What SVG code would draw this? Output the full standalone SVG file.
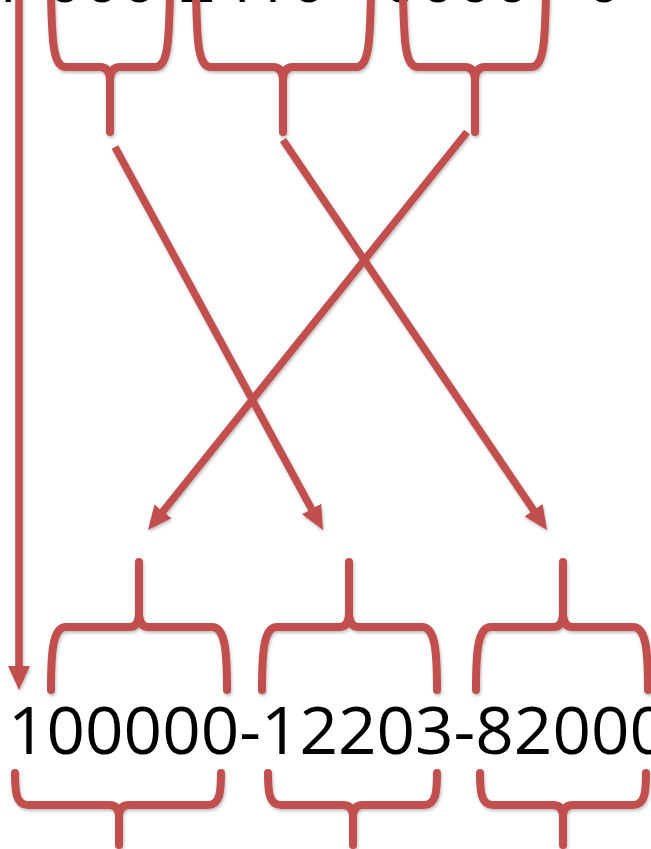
<svg xmlns="http://www.w3.org/2000/svg" width="651" height="849" viewBox="0 0 651 849">
  <defs>
    <style>
      .br { fill: none; stroke: #c0504d; stroke-width: 8; stroke-linecap: round; stroke-linejoin: round; }
      .cn { fill: none; stroke: #c0504d; stroke-width: 7.5; stroke-linecap: butt; }
      .num { font-family: "Open Sans", "Liberation Sans", sans-serif; font-size: 65px; fill: #000000; }
    </style>
    <filter id="sh" x="-10%" y="-10%" width="120%" height="120%">
      <feDropShadow dx="1" dy="2" stdDeviation="1.5" flood-color="#000000" flood-opacity="0.25"/>
    </filter>
    <marker id="ah" markerUnits="userSpaceOnUse" markerWidth="24" markerHeight="22" refX="16" refY="11" orient="auto">
      <path d="M0,0 L24,11 L0,22 Z" fill="#c0504d"/>
    </marker>
  </defs>
  <rect x="0" y="0" width="651" height="849" fill="#ffffff"/>

  <g id="top-text">
    <text class="num" x="-12" y="1.5">1-000-2410 - 0000 - 0</text>
  </g>

  <g id="top-brackets" class="br" filter="url(#sh)">
    <g id="top-bracket-1">
      <path d="M51,-6 C52,42 53,67 66,67 L100,67 Q110,67 110,81 L110,132"/>
      <path d="M170,-6 C169,42 168,67 155,67 L120,67 Q110,67 110,81"/>
    </g>
    <g id="top-bracket-2">
      <path d="M196,-6 C197,42 198,67 211,67 L273,67 Q283,67 283,81 L283,132"/>
      <path d="M371,-6 C370,42 369,67 356,67 L293,67 Q283,67 283,81"/>
    </g>
    <g id="top-bracket-3">
      <path d="M403,-6 C404,42 405,67 418,67 L465,67 Q475,67 475,81 L475,132"/>
      <path d="M546,-6 C545,42 544,67 531,67 L485,67 Q475,67 475,81"/>
    </g>
  </g>

  <g id="connectors" class="cn" filter="url(#sh)">
    <path d="M19,-5 L19,682" marker-end="url(#ah)"/>
    <path d="M115,147 L319.2,523" marker-end="url(#ah)"/>
    <path d="M283,140 L542.5,523.4" marker-end="url(#ah)"/>
    <path d="M467,132 L153,523.8" marker-end="url(#ah)"/>
  </g>

  <g id="upper-brackets" class="br" filter="url(#sh)">
    <g id="upper-bracket-1">
      <path d="M51,690 C51,650 53,627 66,627 L129,627 Q139,627 139,613 L139,562"/>
      <path d="M227,690 C227,650 225,627 212,627 L149,627 Q139,627 139,613"/>
    </g>
    <g id="upper-bracket-2">
      <path d="M262,690 C262,650 264,627 277,627 L339,627 Q349,627 349,613 L349,562"/>
      <path d="M437,690 C437,650 435,627 422,627 L359,627 Q349,627 349,613"/>
    </g>
    <g id="upper-bracket-3">
      <path d="M476,690 C476,650 478,627 491,627 L553,627 Q563,627 563,613 L563,562"/>
      <path d="M648,690 C648,650 646,627 633,627 L573,627 Q563,627 563,613"/>
    </g>
  </g>

  <g id="bottom-text">
    <text class="num" x="8" y="754" textLength="660" lengthAdjust="spacingAndGlyphs">100000-12203-82000</text>
  </g>

  <g id="lower-brackets" class="br" filter="url(#sh)">
    <g id="lower-bracket-1">
      <path d="M15,773 C15,792 16,805 28,805 L109,805 Q119,805 119,817 L119,845"/>
      <path d="M221,773 C221,792 220,805 208,805 L129,805 Q119,805 119,817"/>
    </g>
    <g id="lower-bracket-2">
      <path d="M268,773 C268,792 269,805 281,805 L343,805 Q353,805 353,817 L353,845"/>
      <path d="M437,773 C437,792 436,805 424,805 L363,805 Q353,805 353,817"/>
    </g>
    <g id="lower-bracket-3">
      <path d="M480,773 C480,792 481,805 493,805 L553,805 Q563,805 563,817 L563,845"/>
      <path d="M646,773 C646,792 645,805 633,805 L573,805 Q563,805 563,817"/>
    </g>
  </g>
</svg>
